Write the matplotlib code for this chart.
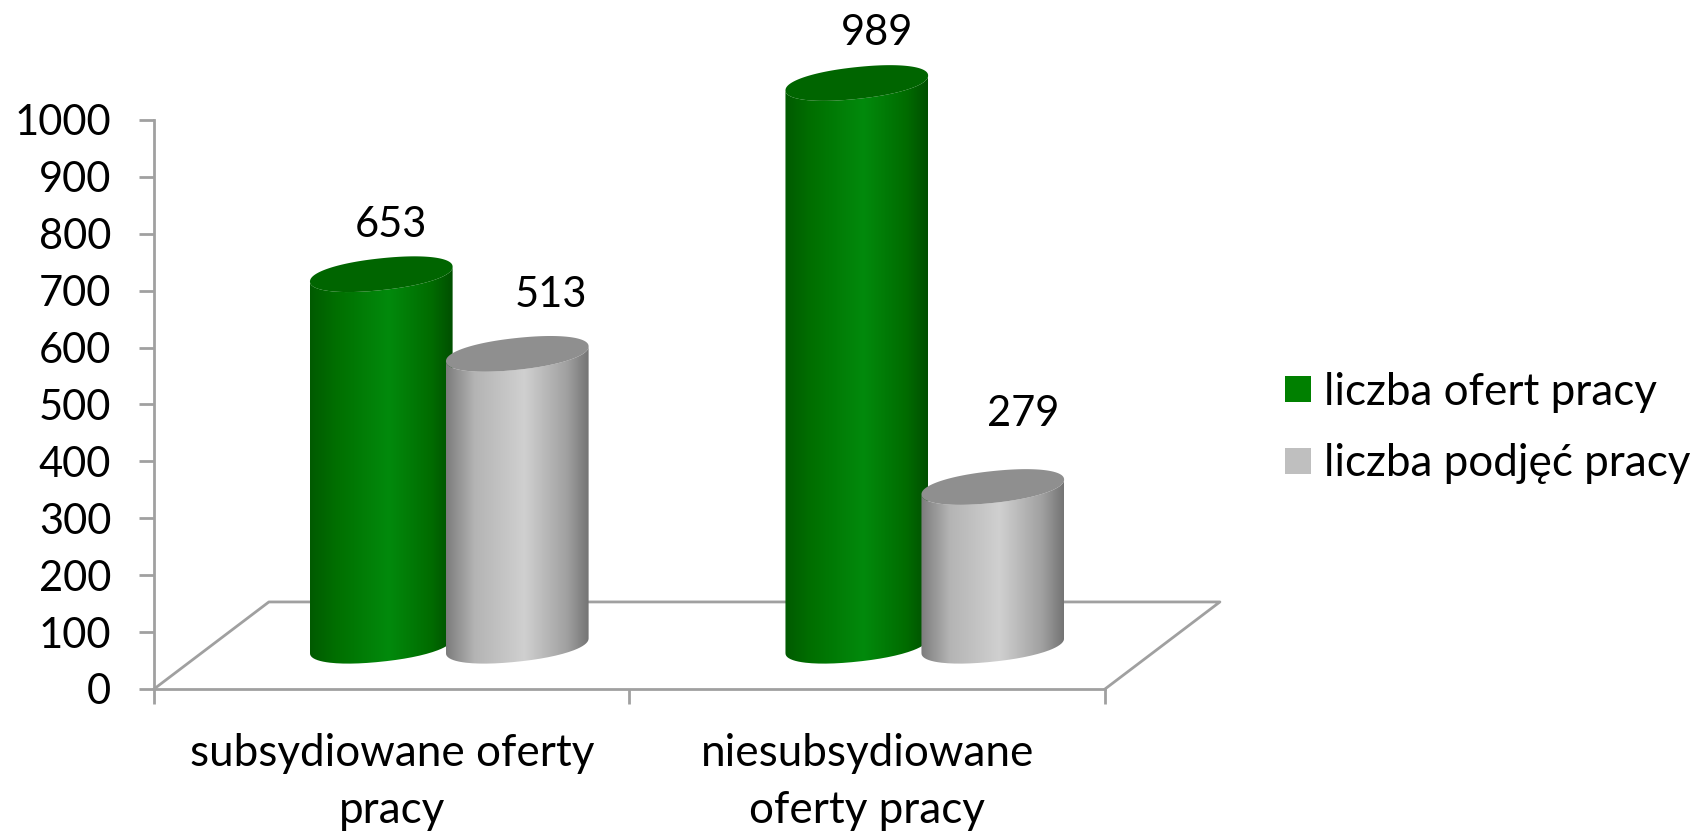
import numpy as np
import matplotlib
matplotlib.use("Agg")
import matplotlib.pyplot as plt
from matplotlib.colors import LinearSegmentedColormap
from matplotlib.lines import Line2D
from matplotlib.patches import PathPatch
from matplotlib.path import Path

plt.rcParams['font.family'] = ['Lato', 'DejaVu Sans']

categories = ["subsydiowane oferty\npracy", "niesubsydiowane\noferty pracy"]
series_names = ["liczba ofert pracy", "liczba podjęć pracy"]
oferty = [653, 989]
podjecia = [513, 279]
y_ticks = [0, 100, 200, 300, 400, 500, 600, 700, 800, 900, 1000]

# pseudo 3d settings, in axis units
depth_y = 76
floor_x = 0.2416
floor_y = 153
half_w = 0.15
tilt = 13
ell_b = 28
blunt = 0.93

axis_col = "#a0a0a0"
fs = 31.7
fs_num = 30

green_cm = LinearSegmentedColormap.from_list(
    "g", [(0, "#005a00"), (0.18, "#006f00"), (0.55, "#028a0c"), (0.85, "#006c00"), (1, "#004f00")])
gray_cm = LinearSegmentedColormap.from_list(
    "s", [(0, "#7c7c7c"), (0.2, "#b4b4b4"), (0.55, "#d0d0d0"), (0.85, "#a0a0a0"), (1, "#747474")])

fig = plt.figure(figsize=(17.06, 8.32), dpi=100)
ax = fig.add_axes([154 / 1706, 1 - 689 / 832, 951 / 1706, 569 / 832])
grad = np.linspace(0, 1, 256).reshape(1, -1)


def outline(cx, cy, t):
    # slightly squared ellipse, tilted up to the right
    c = np.sign(np.cos(t)) * np.abs(np.cos(t)) ** blunt
    s = np.sign(np.sin(t)) * np.abs(np.sin(t)) ** blunt
    return cx + half_w * c, cy + ell_b * s + tilt * c


def cylinder(cx, val, cmap, top_col):
    t_low = np.linspace(np.pi, 2 * np.pi, 80)
    t_all = np.linspace(0, 2 * np.pi, 160)
    y0 = depth_y
    y1 = depth_y + val
    # body: lower half of the bottom ellipse, then back over the top
    xs, ys = outline(cx, y0, t_low)
    xt, yt = outline(cx, y1, t_low[::-1])
    body = np.column_stack((np.r_[xs, xt, xs[0]], np.r_[ys, yt, ys[0]]))
    patch = PathPatch(Path(body), fc="none", ec="none", transform=ax.transData)
    ax.add_patch(patch)
    im = ax.imshow(grad, cmap=cmap, aspect="auto", zorder=3, interpolation="bilinear",
                   extent=(cx - half_w, cx + half_w, y0 - 60, y1 + 60))
    im.set_clip_path(patch)
    im.set_clip_box(fig.bbox)
    xe, ye = outline(cx, y1, t_all)
    ax.fill(xe, ye, color=top_col, zorder=3, lw=0, clip_on=False)


# floor of the chart
ax.plot([0, floor_x, 2 + floor_x, 2], [0, floor_y, floor_y, 0],
        color=axis_col, lw=2, clip_on=False, zorder=1)

x_pos = np.arange(len(categories)) + 0.5
for i in range(len(categories)):
    cylinder(x_pos[i] - 0.022, oferty[i], green_cm, "#006500")
    cylinder(x_pos[i] + 0.264, podjecia[i], gray_cm, "#8f8f8f")

# data labels
label_dx = [10, 34, 20, 30]
label_dy = [162, 180, 164, 204]
vals = [oferty[0], podjecia[0], oferty[1], podjecia[1]]
centers = [x_pos[0] - 0.022, x_pos[0] + 0.264, x_pos[1] - 0.022, x_pos[1] + 0.264]
for c, v, dx, dy in zip(centers, vals, label_dx, label_dy):
    ax.annotate(str(v), (c, v + dy), xytext=(dx * 0.72, 0), textcoords="offset points",
                ha="center", va="center", fontsize=fs_num, color="black", annotation_clip=False)

ax.set_xlim(0, 2)
ax.set_ylim(0, 1000)
ax.patch.set_visible(False)
for s in ["top", "right"]:
    ax.spines[s].set_visible(False)
for s in ["left", "bottom"]:
    ax.spines[s].set_color(axis_col)
    ax.spines[s].set_linewidth(2)
ax.set_yticks(y_ticks)
ax.set_xticks([0, 1, 2])
ax.set_xticklabels([])
ax.set_xticks(x_pos, categories, minor=True)
ax.tick_params(axis="y", length=10.8, width=2, color=axis_col, labelsize=fs_num, pad=20)
ax.tick_params(axis="x", which="major", length=10.8, width=2, color=axis_col)
ax.tick_params(axis="x", which="minor", length=0, labelsize=fs, pad=32)
for lab in ax.get_xticklabels(minor=True):
    lab.set_linespacing(1.46)

handles = [Line2D([], [], ls="none", marker="s", ms=19.4, mew=0, color="#008000"),
           Line2D([], [], ls="none", marker="s", ms=19.4, mew=0, color="#bfbfbf")]
ax.legend(handles, series_names, loc="center left", frameon=False, fontsize=fs,
          bbox_to_anchor=(1276 / 1706, 1 - 428 / 832), bbox_transform=fig.transFigure,
          labelspacing=0.7, handlelength=1.0, handletextpad=0.08, borderpad=0, borderaxespad=0)

fig.savefig("out.png", dpi=100)
